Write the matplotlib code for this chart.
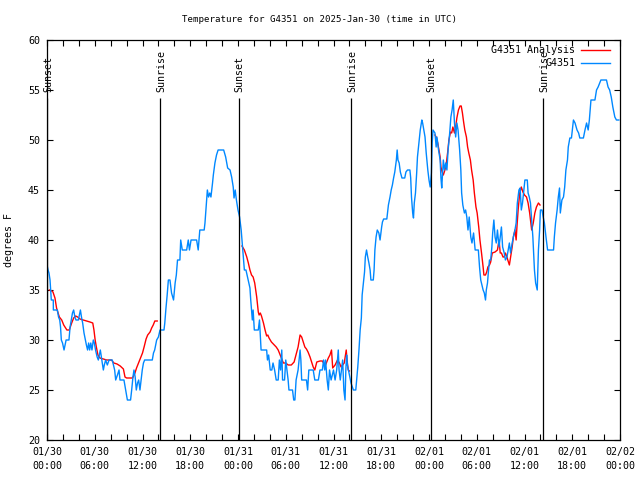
import matplotlib
matplotlib.use('Agg')
import matplotlib.pyplot as plt
import numpy as np

# ---------------- data (hours since 2025-01-30 00:00 UTC) ----------------
obs_hours = [0.0, 0.13, 0.25, 0.38, 0.54, 0.79, 0.8, 1.3, 1.45, 1.6, 1.7, 1.8, 1.95, 2.14, 2.27, 2.4, 2.76, 2.9, 3.05, 3.2,
             3.35, 3.5, 3.64, 3.94, 4.07, 4.2, 4.33, 4.48, 4.65, 4.82, 4.95, 5.1, 5.23, 5.36, 5.5, 5.65, 5.82, 5.95, 6.1, 6.3,
             6.45, 6.58, 6.7, 6.83, 6.95, 7.08, 7.2, 7.37, 7.58, 7.8, 8.2, 8.35, 8.5, 8.63, 8.85, 9.05, 9.17, 9.67, 9.88, 10.1,
             10.5, 10.64, 10.8, 10.93, 11.08, 11.22, 11.38, 11.52, 11.68, 11.83, 11.97, 12.12, 12.27, 13.23, 13.38, 13.53, 13.78, 14.0, 14.2, 14.7,
             14.8, 14.95, 15.1, 15.25, 15.45, 15.65, 15.9, 16.1, 16.25, 16.4, 16.7, 16.8, 17.0, 17.55, 17.75, 17.9, 18.1, 18.8, 19.0, 19.2,
             19.75, 19.85, 19.97, 20.15, 20.3, 20.45, 20.6, 20.8, 20.9, 21.1, 21.3, 21.5, 22.2, 22.45, 22.7, 23.0, 23.2, 23.4, 23.5, 23.65,
             23.8, 24.0, 24.2, 24.4, 24.55, 24.8, 25.0, 25.2, 25.5, 25.6, 25.8, 25.9, 26.05, 26.55, 26.7, 26.9, 27.6, 27.7, 27.85, 28.05,
             28.25, 28.4, 28.6, 28.8, 29.05, 29.2, 29.35, 29.5, 29.6, 29.85, 30.0, 30.15, 30.3, 30.4, 30.85, 31.0, 31.15, 31.3, 31.55, 31.8,
             31.9, 32.0, 32.6, 32.75, 32.9, 33.45, 33.65, 34.1, 34.3, 34.6, 34.75, 34.9, 35.0, 35.2, 35.35, 35.5, 35.7, 36.0, 36.2, 36.4,
             36.6, 36.7, 36.85, 37.0, 37.15, 37.3, 37.45, 37.55, 37.65, 37.75, 38.0, 38.2, 38.5, 38.8, 39.05, 39.2, 39.35, 39.5, 39.55, 39.6,
             39.75, 39.9, 40.0, 40.15, 40.3, 40.45, 40.6, 40.7, 41.0, 41.1, 41.2, 41.35, 41.5, 41.7, 41.85, 42.05, 42.15, 42.3, 42.7, 42.9,
             43.1, 43.25, 43.4, 43.55, 43.7, 43.9, 44.0, 44.1, 44.25, 44.4, 44.6, 44.95, 45.1, 45.3, 45.6, 45.7, 45.8, 45.95, 46.05, 46.15,
             46.3, 46.45, 46.55, 46.75, 46.9, 47.1, 47.2, 47.35, 47.5, 47.65, 47.85, 48.0, 48.15, 48.3, 48.4, 48.5, 48.75, 48.9, 49.0, 49.2,
             49.4, 49.5, 49.6, 49.8, 49.95, 50.1, 50.25, 50.4, 50.6, 50.75, 50.9, 51.05, 51.2, 51.35, 51.5, 51.65, 51.85, 52.0, 52.1, 52.25,
             52.45, 52.6, 52.75, 52.9, 53.05, 53.25, 53.4, 53.6, 53.8, 54.2, 54.35, 54.5, 54.65, 54.8, 54.95, 55.1, 55.2, 55.35, 55.45, 55.6,
             55.75, 55.9, 56.0, 56.15, 56.3, 56.45, 56.6, 56.8, 56.95, 57.1, 57.25, 57.45, 57.6, 57.8, 57.95, 58.1, 58.25, 58.45, 58.6, 58.8,
             58.95, 59.1, 59.3, 59.45, 59.6, 59.75, 60.05, 60.35, 60.45, 60.6, 60.75, 60.9, 61.05, 61.25, 61.4, 61.6, 61.75, 61.9, 62.0, 62.2,
             62.35, 62.5, 62.7, 62.9, 63.65, 63.75, 63.9, 64.1, 64.25, 64.4, 64.5, 64.7, 64.9, 65.05, 65.2, 65.4, 65.5, 65.7, 65.9, 66.15,
             66.35, 66.6, 66.8, 66.95, 67.4, 67.6, 67.8, 68.0, 68.15, 68.35, 68.85, 69.05, 69.25, 69.6, 70.3, 70.5, 70.7, 70.9, 71.1, 71.35,
             71.55, 71.85]
obs_temps = [37.5, 37, 36.7, 36, 34, 34, 33, 33, 32.3, 32, 31.3, 30, 29.7, 29, 29.5, 30, 30, 31.3, 32, 32.7,
             33, 32.3, 32, 32, 32.5, 33, 32.3, 31.7, 30.7, 30, 29.5, 29, 29.7, 29, 29.7, 29, 30, 29.7, 29, 28.3,
             28, 28.5, 29, 28.3, 27.7, 27, 27.5, 28, 27.5, 28, 28, 27.5, 27, 26, 26.5, 27, 26, 26, 25, 24,
             24, 25, 26.3, 27, 26.3, 25, 25.7, 26, 25, 26, 27, 27.7, 28, 28, 28.7, 29, 30, 30.3, 31, 31,
             31.7, 33.2, 34.5, 36, 36, 34.7, 34, 35.7, 36.5, 38, 38, 40, 39, 39, 40, 39, 40, 40, 39, 41,
             41, 41.7, 43, 45, 44.3, 44.7, 44.3, 45.7, 46.5, 47.7, 48.5, 49, 49, 48.3, 47.2, 47, 46.3, 45.3, 44.2, 45,
             44, 43, 42.3, 41, 39.5, 37, 37, 36.3, 35.2, 34, 32, 33, 31, 31, 32, 29, 29, 28, 28.5, 27,
             27, 27.7, 27, 26, 26, 28, 27, 29, 26, 26, 28, 27, 26, 25, 25, 24, 24, 26, 27, 29,
             28, 26, 26, 25, 27, 27, 26, 26, 27, 27, 28, 27, 28, 26, 25, 27, 26, 27, 26, 27,
             29, 27, 26, 27, 28, 25, 24, 27, 28.5, 27.5, 26.5, 25.7, 25, 25, 27.3, 29, 31, 32.2, 33.3, 34.5,
             35.7, 36.8, 38.3, 39, 38.3, 37.7, 37, 36, 36, 37, 39, 40.3, 41, 40.7, 40, 41.3, 41.8, 42.1, 42.1, 43.5,
             44.3, 45, 45.5, 46.2, 46.8, 48, 49, 48, 47.7, 46.8, 46.2, 46.2, 46.8, 47, 47, 46.2, 44.3, 42.7, 42.2, 43.7,
             44.7, 46.7, 48.3, 49.8, 51, 52, 51.7, 51, 50.3, 48.7, 47, 46, 45.3, 46.7, 49.7, 51, 50.7, 49.3, 50.3, 49,
             48, 46.2, 45.2, 48, 47, 47.7, 47, 49, 50.7, 52.3, 53, 54, 51.7, 50.3, 51.7, 51, 49, 47, 44.7, 43.5,
             42.7, 43, 42.3, 41, 42.3, 40.3, 39.7, 40.7, 39, 39, 37.3, 36, 35.5, 35, 34.7, 34, 35, 35.7, 36.7, 38,
             38, 39.3, 40.7, 42, 40.3, 39.7, 41, 39.3, 40.3, 41.3, 39.3, 38.7, 38, 38.3, 39, 39.7, 38.7, 39.7, 40.3, 41,
             41.7, 43.7, 45, 45.2, 43, 43.7, 46, 46, 44.7, 44.3, 43.7, 42, 40.3, 37, 35.7, 35, 39, 41, 43, 43,
             42.3, 41.7, 40.3, 39, 39, 40.3, 41.7, 43, 44.3, 45.2, 42.7, 44, 44.3, 45.3, 47, 48, 49.3, 50.2, 50.2, 52,
             51.7, 51, 50.7, 50.2, 50.2, 51, 51.7, 51, 52, 54, 54, 55, 55.3, 56, 56, 55.3, 55, 54.3, 53.3, 52.3,
             52, 52]

ana_hours = [0.3, 0.6, 0.75, 1.0, 1.2, 1.55, 1.85, 2.1, 2.5, 2.8, 3.1, 3.35, 3.6, 3.85, 4.15, 4.55, 5.0, 5.4, 5.75, 5.9,
             6.05, 6.2, 6.4, 6.65, 7.1, 7.5, 8.1, 8.4, 8.8, 9.2, 9.6, 9.8, 10.0, 10.4, 10.75, 11.05, 11.25, 11.5, 11.75, 12.0,
             12.2, 12.45, 12.65, 12.95, 13.15, 13.35, 13.55, 13.85, np.nan,
             24.5, 24.8, 25.1, 25.3, 25.5, 25.7, 25.9, 26.1, 26.35, 26.55, 26.65, 26.8, 26.95, 27.2, 27.4, 27.6, 27.75, 27.9, 28.2, 28.55,
             28.8, 29.05, 29.4, 29.7, 30.0, 30.3, 30.7, 31.05, 31.35, 31.55, 31.8, 32.0, 32.2, 32.4, 32.6, 32.8, 33.05, 33.25, 33.45, 33.65,
             33.9, 34.3, 34.6, 34.75, 35.0, 35.35, 35.55, 35.75, 35.9, 36.2, 36.5, 36.75, 36.95, 37.35, 37.6, 37.7, 37.85, 38.0, np.nan,
             48.75, 48.9, 49.1, 49.25, 49.4, 49.5, 49.65, 49.8, 50.0, 50.15, 50.35, 50.5, 50.7, 50.85, 51.0, 51.2, 51.35, 51.5, 51.7, 51.9,
             52.05, 52.2, 52.35, 52.5, 52.7, 52.85, 53.0, 53.2, 53.35, 53.55, 53.7, 53.9, 54.05, 54.25, 54.4, 54.6, 54.8, 54.9, 55.1, 55.25,
             55.4, 55.6, 55.75, 55.95, 56.3, 56.6, 56.8, 56.95, 57.1, 57.3, 57.45, 57.6, 57.8, 57.9, 58.1, 58.25, 58.45, 58.6, 58.8, 58.95,
             59.05, 59.2, 59.4, 59.6, 59.8, 60.0, 60.25, 60.45, 60.65, 60.9, 61.1, 61.3, 61.5, 61.75, 61.95]
ana_temps = [35, 34.9, 34.8, 34.2, 33.2, 32.3, 32, 31.5, 31, 31, 31.7, 32.2, 32.4, 32.3, 32.1, 32, 31.9, 31.8, 31.7, 31,
             30, 29.3, 28.5, 28.2, 28.1, 28, 28, 27.7, 27.6, 27.4, 27.1, 26.3, 26.2, 26.2, 26.2, 26.7, 27.2, 27.7, 28.2, 28.7,
             29.3, 30.1, 30.5, 30.8, 31.2, 31.5, 31.9, 31.9, np.nan,
             39.4, 39, 38.3, 37.7, 37, 36.5, 36.3, 35.7, 34.3, 32.8, 32.5, 32.7, 32.4, 31.7, 31, 30.4, 30.5, 30.2, 29.8, 29.5,
             29.3, 29, 28.3, 27.7, 27.7, 27.5, 27.5, 27.8, 28.7, 29.3, 30.5, 30.3, 29.8, 29.3, 29.1, 28.8, 28.3, 27.8, 27.3, 27,
             27.8, 27.9, 27.9, 27.7, 27.5, 28.2, 28.5, 29, 27.2, 27.5, 28, 27.7, 27.3, 27.7, 29, 28, 27, 26.9, np.nan,
             50.5, 50.3, 49.7, 49, 48.3, 47.3, 46.8, 46.5, 47, 47.5, 48.8, 50, 50.8, 50.7, 51.3, 50.7, 51.3, 52.2, 53, 53.4,
             53.4, 52.7, 51.8, 51, 50.3, 49.3, 48.7, 48, 47, 46, 44.7, 43.3, 42.7, 41.3, 40, 38.7, 37.3, 36.5, 36.5, 36.8,
             37.3, 37.5, 37.8, 38.7, 38.8, 39, 40, 38.7, 38.7, 38.3, 38.3, 38.7, 38.3, 38, 37.5, 38.3, 39.3, 40.3, 41, 40,
             41.3, 43, 44.7, 45.3, 44.8, 44.5, 44.3, 43.7, 42.7, 41, 41.7, 42.7, 43.3, 43.7, 43.5]

event_hours = [0.05, 14.25, 24.08, 38.25, 48.22, 62.35]
event_labels = ['Sunset', 'Sunrise', 'Sunset', 'Sunrise', 'Sunset', 'Sunrise']

xtick_hours = list(range(0, 73, 6))
xtick_labels = ['01/30\n00:00', '01/30\n06:00', '01/30\n12:00', '01/30\n18:00',
                '01/31\n00:00', '01/31\n06:00', '01/31\n12:00', '01/31\n18:00',
                '02/01\n00:00', '02/01\n06:00', '02/01\n12:00', '02/01\n18:00',
                '02/02\n00:00']
ytick_vals = [20, 25, 30, 35, 40, 45, 50, 55, 60]

series_names = ['G4351 Analysis', 'G4351']
series_colors = ['#ff0000', '#0088ff']

# ---------------- plot ----------------
FONT = 'DejaVu Sans Mono'
FS = 7.2
plt.rcParams['font.family'] = [FONT]

fig = plt.figure(figsize=(6.4, 4.8), dpi=100)
ax = fig.add_axes([47 / 640, 40 / 480, 573 / 640, 400 / 480])

ax.plot(ana_hours, ana_temps, color=series_colors[0], lw=1.0)
ax.plot(obs_hours, obs_temps, color=series_colors[1], lw=1.0)

ax.vlines(event_hours, 20, 54.2, colors='black', lw=0.9)
for h, lab in zip(event_hours, event_labels):
    ax.text(h + 0.1, 54.8, lab, rotation=90, ha='center', va='bottom', fontsize=FS, color='black')

ax.set_xlim(0, 72)
ax.set_ylim(20, 60)
ax.set_xticks(xtick_hours)
ax.set_xticklabels(xtick_labels, fontsize=FS, linespacing=1.5)
ax.set_xticks(np.arange(0, 73, 2), minor=True)
ax.set_yticks(ytick_vals)
ax.set_yticklabels([str(v) for v in ytick_vals], fontsize=FS)
ax.tick_params(which='both', direction='in', top=True, right=True, length=4, width=0.8)
ax.tick_params(axis='x', which='major', pad=5)
ax.tick_params(axis='y', which='major', pad=5)
for s in ax.spines.values():
    s.set_linewidth(0.9)

ax.set_ylabel('degrees F', fontsize=FS, labelpad=10)
fig.text(0.5, 1 - 19 / 480, 'Temperature for G4351 on 2025-Jan-30 (time in UTC)',
         ha='center', va='center', fontsize=6.6)

# legend (gnuplot style: right-aligned text followed by line sample)
tr = ax.transAxes
for i, (name, col) in enumerate(zip(series_names, series_colors)):
    yy = 0.975 - i * 0.0325
    ax.text(0.9215, yy, name, transform=tr, ha='right', va='center', fontsize=FS)
    ax.plot([0.932, 0.9825], [yy, yy], transform=tr, color=col, lw=1.0)

fig.savefig('out.png', dpi=100)
